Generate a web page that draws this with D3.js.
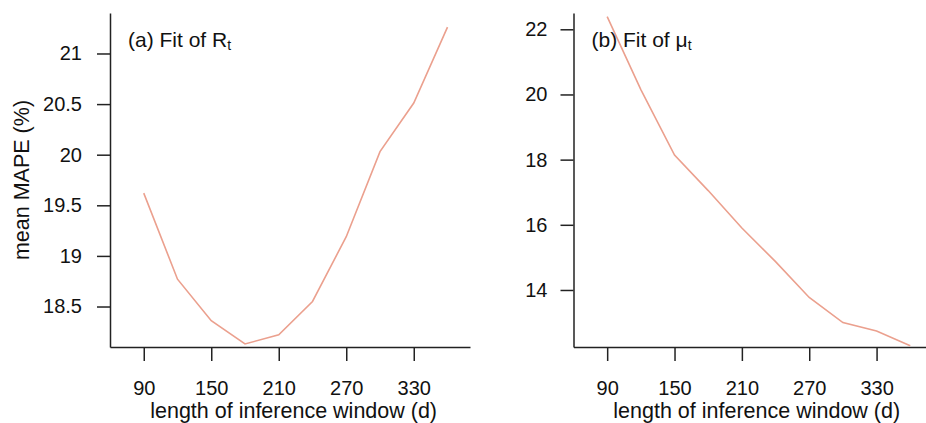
<!DOCTYPE html>
<html>
<head>
<meta charset="utf-8">
<script src="https://cdn.jsdelivr.net/npm/d3@7"></script>
<style>
  html, body { margin: 0; padding: 0; background: #fff; }
  svg { display: block; font-family: "Liberation Sans", Arial, Helvetica, sans-serif; }
</style>
</head>
<body>
<svg id="chart" width="926" height="423"></svg>
<script>
// ---- data ----
const windowLengths = [90, 120, 150, 180, 210, 240, 270, 300, 330, 360];
const mapeRt = [19.62, 18.77, 18.36, 18.13, 18.22, 18.55, 19.19, 20.03, 20.51, 21.26];
const mapeMu = [22.39, 20.15, 18.14, 17.05, 15.90, 14.87, 13.77, 13.00, 12.74, 12.29];
const xTicks = [90, 150, 210, 270, 330];
const yTicksA = [18.5, 19, 19.5, 20, 20.5, 21];
const yTicksB = [14, 16, 18, 20, 22];
const xLabel = "length of inference window (d)";
const yLabel = "mean MAPE (%)";

const svg = d3.select("#chart");
const lineColor = "#eba08e";
const axisColor = "#222";

const plotTop = 13, plotBottom = 347;

function panel(opts) {
  const x = d3.scaleLinear().domain([60, 380]).range([opts.left, opts.left + 320 * opts.pxPerUnit]);
  const y = d3.scaleLinear().domain(opts.yDomain).range([plotBottom, plotTop]);
  const g = svg.append("g");

  const xa = g.append("g").attr("transform", `translate(0,${plotBottom})`)
    .call(d3.axisBottom(x).tickValues(xTicks).tickSize(14).tickSizeOuter(0).tickPadding(20).tickFormat(d3.format("d")));
  const ya = g.append("g").attr("transform", `translate(${opts.left},0)`)
    .call(d3.axisLeft(y).tickValues(opts.yTicks).tickSize(13).tickSizeOuter(0).tickPadding(opts.yPad).tickFormat(d => String(d)));

  [xa, ya].forEach(a => {
    a.select(".domain").attr("stroke", axisColor).attr("stroke-width", 1.5);
    a.selectAll(".tick line").attr("stroke", axisColor).attr("stroke-width", 1.5);
    a.selectAll(".tick text").attr("fill", "#111").style("font-size", "20px")
      .style("font-family", '"Liberation Sans", Arial, Helvetica, sans-serif');
  });

  const line = d3.line().x((d, i) => x(windowLengths[i])).y(d => y(d));
  g.append("path").datum(opts.values)
    .attr("d", line).attr("fill", "none").attr("stroke", lineColor).attr("stroke-width", 1.6);

  g.append("text").attr("x", (x(90) + x(360)) / 2 - 2).attr("y", 418)
    .attr("text-anchor", "middle").style("font-size", "21.5px").attr("fill", "#111").text(xLabel);

  const t = g.append("text").attr("x", opts.titleX).attr("y", 47)
    .style("font-size", "21px").attr("fill", "#111");
  t.append("tspan").text(opts.title);
  t.append("tspan").attr("dy", 3).style("font-size", "14px").text("t");
  return {x, y};
}

panel({left: 110, pxPerUnit: 1.125, yDomain: [18.1, 21.4], yTicks: yTicksA, yPad: 15,
       values: mapeRt, title: "(a) Fit of R", titleX: 128});
panel({left: 573.5, pxPerUnit: 1.1225, yDomain: [12.25, 22.5], yTicks: yTicksB, yPad: 13,
       values: mapeMu, title: "(b) Fit of \u03bc", titleX: 591.5});

svg.append("text").attr("transform", "translate(29,180) rotate(-90)")
  .attr("text-anchor", "middle").style("font-size", "21.5px").attr("fill", "#111").text(yLabel);
</script>
</body>
</html>
